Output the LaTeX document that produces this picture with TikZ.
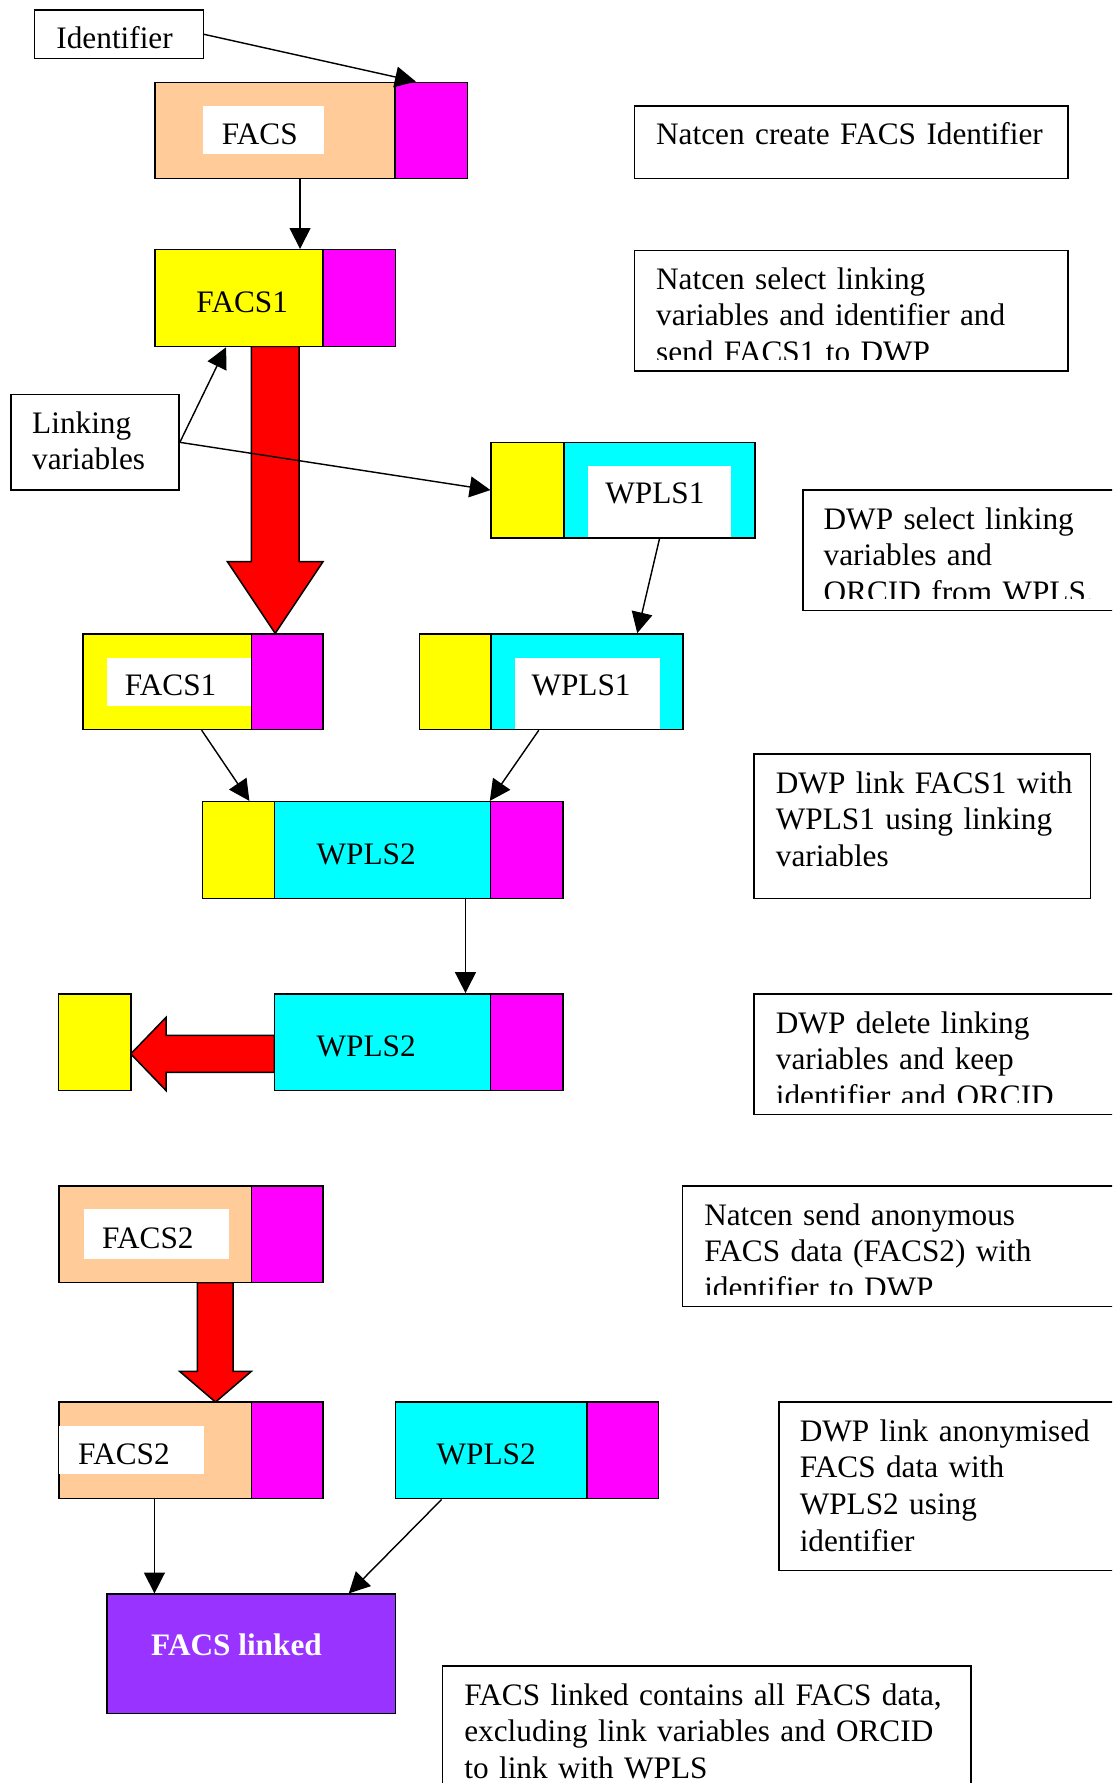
\documentclass[tikz,border=0pt]{standalone}
\usepackage{fontspec}
\setmainfont{Liberation Serif}
\usetikzlibrary{arrows.meta,fit,calc}
\definecolor{peach}{HTML}{FFCC99}
\definecolor{mag}{HTML}{FF00FF}
\definecolor{yel}{HTML}{FFFF00}
\definecolor{cyn}{HTML}{00FFFF}
\definecolor{redc}{HTML}{FF0000}
\definecolor{purp}{HTML}{9933FF}
\begin{document}
\begin{tikzpicture}[x=0.6pt,y=-0.6pt,
  blk/.style={draw=black,line width=0.8pt,inner sep=0pt},
  lbl/.style={fill=white,inner sep=0pt},
  ctxt/.style={font=\fontsize{16.5}{19.3}\selectfont,inner sep=0pt,anchor=base},
  arr/.style={draw=black,line width=0.75pt,-{Triangle[length=11pt,width=11pt]}},
  tbox/.style={draw=black,line width=0.8pt,inner sep=0pt},
  ttxt/.style={font=\fontsize{16.5}{19.3}\selectfont,inner sep=0pt,anchor=base west,align=left,text width=380pt},
  bigarrow/.style={fill=redc,draw=black,line width=0.8pt,line join=miter}
]
\useasboundingbox (0,0) rectangle (978,1568);
\fill[white] (0,0) rectangle (978,1568);
\clip (0,0) rectangle (978,1568);

% ---------- red block arrows ----------
\draw[bigarrow] (221,304.5) -- (221,494) -- (200,494) -- (242,557) -- (284,494) -- (263,494) -- (263,304.5) -- cycle;
\draw[bigarrow] (173.5,1128) -- (173.5,1206) -- (158,1206) -- (189.5,1233) -- (221,1206) -- (205,1206) -- (205,1128) -- cycle;
\draw[bigarrow] (241.3,910.5) -- (146,910.5) -- (146,894.7) -- (115,926.8) -- (146,959) -- (146,943) -- (241.3,943) -- cycle;

% ---------- Identifier ----------
\node[tbox,fit={(30.2,8.8)(178.8,51.6)}] (ident) {};
\node[ttxt] (identT) at (49.3,42.5) {Identifier};

% ---------- FACS ----------
\node[blk,fill=peach,fit={(136.3,72.4)(347.4,156.8)}] (facsP) {};
\node[blk,fill=mag,fit={(347.4,72.4)(411,156.8)}] (facsM) {};
\node[lbl,fit={(178.5,93.2)(284.7,135.2)}] (facsL) {};
\node[ctxt] (facsT) at (228.4,126.7) {FACS};

% ---------- FACS1 ----------
\node[blk,fill=yel,fit={(136.3,219.6)(284.2,304.7)}] (facs1Y) {};
\node[blk,fill=mag,fit={(284.2,219.6)(347.6,304.7)}] (facs1M) {};
\node[ctxt] (facs1T) at (213,274.5) {FACS1};

% ---------- Linking variables ----------
\node[tbox,fit={(9.5,347)(157.5,431)}] (link) {};
\node[ttxt] (linkT) at (28,381) {Linking\\variables};

% ---------- WPLS1 (top) ----------
\node[blk,fill=yel,fit={(432,389)(496,473)}] (wp1Y) {};
\node[blk,fill=cyn,fit={(496,389)(664,473)}] (wp1C) {};
\node[lbl,fit={(516.7,409.7)(643,472.6)}] (wp1L) {};
\node[ctxt] (wp1T) at (576,443) {WPLS1};

% ---------- FACS1 (second) ----------
\node[blk,fill=yel,fit={(73,557.5)(221,641.5)}] (f1bY) {};
\node[blk,fill=mag,fit={(221,557.5)(284,641.5)}] (f1bM) {};
\node[lbl,fit={(94,579)(221,620.5)}] (f1bL) {};
\node[ctxt] (f1bT) at (150,612) {FACS1};

% ---------- WPLS1 (second) ----------
\node[blk,fill=yel,fit={(369,557.5)(432,641.5)}] (wp2Y) {};
\node[blk,fill=cyn,fit={(432,557.5)(600.8,641.5)}] (wp2C) {};
\node[lbl,fit={(453,579)(580,641.1)}] (wp2L) {};
\node[ctxt] (wp2T) at (511,612) {WPLS1};

% ---------- WPLS2 (first) ----------
\node[blk,fill=yel,fit={(178,705)(241.3,790)}] (w2Y) {};
\node[blk,fill=cyn,fit={(241.3,705)(431.4,790)}] (w2C) {};
\node[blk,fill=mag,fit={(431.4,705)(495,790)}] (w2M) {};
\node[ctxt] (w2T) at (322,760) {WPLS2};

% ---------- WPLS2 (second) ----------
\node[blk,fill=yel,fit={(51.5,874)(115,959)}] (w3Y) {};
\node[blk,fill=cyn,fit={(241.3,874)(431.4,959)}] (w3C) {};
\node[blk,fill=mag,fit={(431.4,874)(495,959)}] (w3M) {};
\node[ctxt] (w3T) at (322,929) {WPLS2};

% ---------- FACS2 (first) ----------
\node[blk,fill=peach,fit={(52,1043)(221,1128)}] (f2P) {};
\node[blk,fill=mag,fit={(221,1043)(284,1128)}] (f2M) {};
\node[lbl,fit={(73.6,1063.6)(201,1106.9)}] (f2L) {};
\node[ctxt] (f2T) at (130,1098) {FACS2};

% ---------- FACS2 (second) ----------
\node[blk,fill=peach,fit={(52,1233)(221,1318)}] (f2bP) {};
\node[blk,fill=mag,fit={(221,1233)(284,1318)}] (f2bM) {};
\node[lbl,fit={(51.6,1254.3)(179.8,1296.2)}] (f2bL) {};
\node[ctxt] (f2bT) at (109,1288) {FACS2};

% ---------- WPLS2 (third) ----------
\node[blk,fill=cyn,fit={(347.6,1233)(516,1318)}] (w4C) {};
\node[blk,fill=mag,fit={(516,1233)(579,1318)}] (w4M) {};
\node[ctxt] (w4T) at (427.5,1288) {WPLS2};

% ---------- FACS linked ----------
\node[blk,fill=purp,fit={(94,1402)(348,1507)}] (linked) {};
\node[ctxt,text=white,font=\fontsize{16.5}{19.3}\selectfont\bfseries] (linkedT) at (208,1456) {FACS linked};

% ---------- description boxes ----------
\node[tbox,fit={(557.9,93)(939,156.8)}] (b1) {};
\node[ttxt] (b1t) at (576.7,127.5) {Natcen create FACS Identifier};

\node[tbox,fit={(557.9,220.2)(939,326.3)}] (b2) {};
\begin{scope}
\clip (b2.north west) rectangle ($(b2.south east)+(0,-11)$);
\node[ttxt] (b2t) at (576.7,254.5) {Natcen select linking\\variables and identifier and\\send FACS1 to DWP};
\end{scope}

\node[tbox,fit={(706,431)(1010,537)}] (b3) {};
\begin{scope}
\clip (b3.north west) rectangle ($(b3.south east)+(0,-11)$);
\node[ttxt] (b3t) at (724,465.5) {DWP select linking\\variables and\\ORCID from WPLS.};
\end{scope}

\node[tbox,fit={(663,663)(959,790)}] (b4) {};
\node[ttxt] (b4t) at (682,697.5) {DWP link FACS1 with\\WPLS1 using linking\\variables};

\node[tbox,fit={(663,874)(1010,980)}] (b5) {};
\begin{scope}
\clip (b5.north west) rectangle ($(b5.south east)+(0,-11)$);
\node[ttxt] (b5t) at (682,908.5) {DWP delete linking\\variables and keep\\identifier and ORCID};
\end{scope}

\node[tbox,fit={(600,1043)(1010,1149)}] (b6) {};
\begin{scope}
\clip (b6.north west) rectangle ($(b6.south east)+(0,-11)$);
\node[ttxt] (b6t) at (619,1077.5) {Natcen send anonymous\\FACS data (FACS2) with\\identifier to DWP};
\end{scope}

\node[tbox,fit={(685,1233)(1010,1381)}] (b7) {};
\node[ttxt] (b7t) at (703,1267.5) {DWP link anonymised\\FACS data with\\WPLS2 using\\identifier};

\node[tbox,fit={(389,1465)(854,1600)}] (b8) {};
\node[ttxt] (b8t) at (408,1499.5) {FACS linked contains all FACS data,\\excluding link variables and ORCID\\to link with WPLS};

% ---------- connectors ----------
\draw[arr] (ident.east) -- ($(facsM.north west)+(19,0)$);
\coordinate (c1) at ($(facs1Y.north east)+(-21,0)$);
\draw[arr] (c1 |- facsP.south) -- (c1);
\draw[arr] (link.east) -- ($(facs1Y.south west)+(63.2,0)$);
\draw[arr] (link.east) -- (wp1Y.west);
\draw[arr] (wp1C.south) -- ($(wp2C.north)+(44,0)$);
\draw[arr] ($(f1bY.south west)+(105,0)$) -- ($(w2Y.north west)+(42,0)$);
\draw[arr] ($(wp2C.south west)+(42.5,0)$) -- (w2M.north west);
\coordinate (c2) at ($(w2C.south west)+(168.7,0)$);
\draw[arr] (c2) -- (c2 |- w3C.north);
\coordinate (c3) at ($(f2bP.south west)+(84.5,0)$);
\draw[arr] (c3) -- (c3 |- linked.north);
\draw[arr] ($(w4C.south west)+(41.4,0)$) -- ($(linked.north east)+(-42,0)$);
\end{tikzpicture}
\end{document}
